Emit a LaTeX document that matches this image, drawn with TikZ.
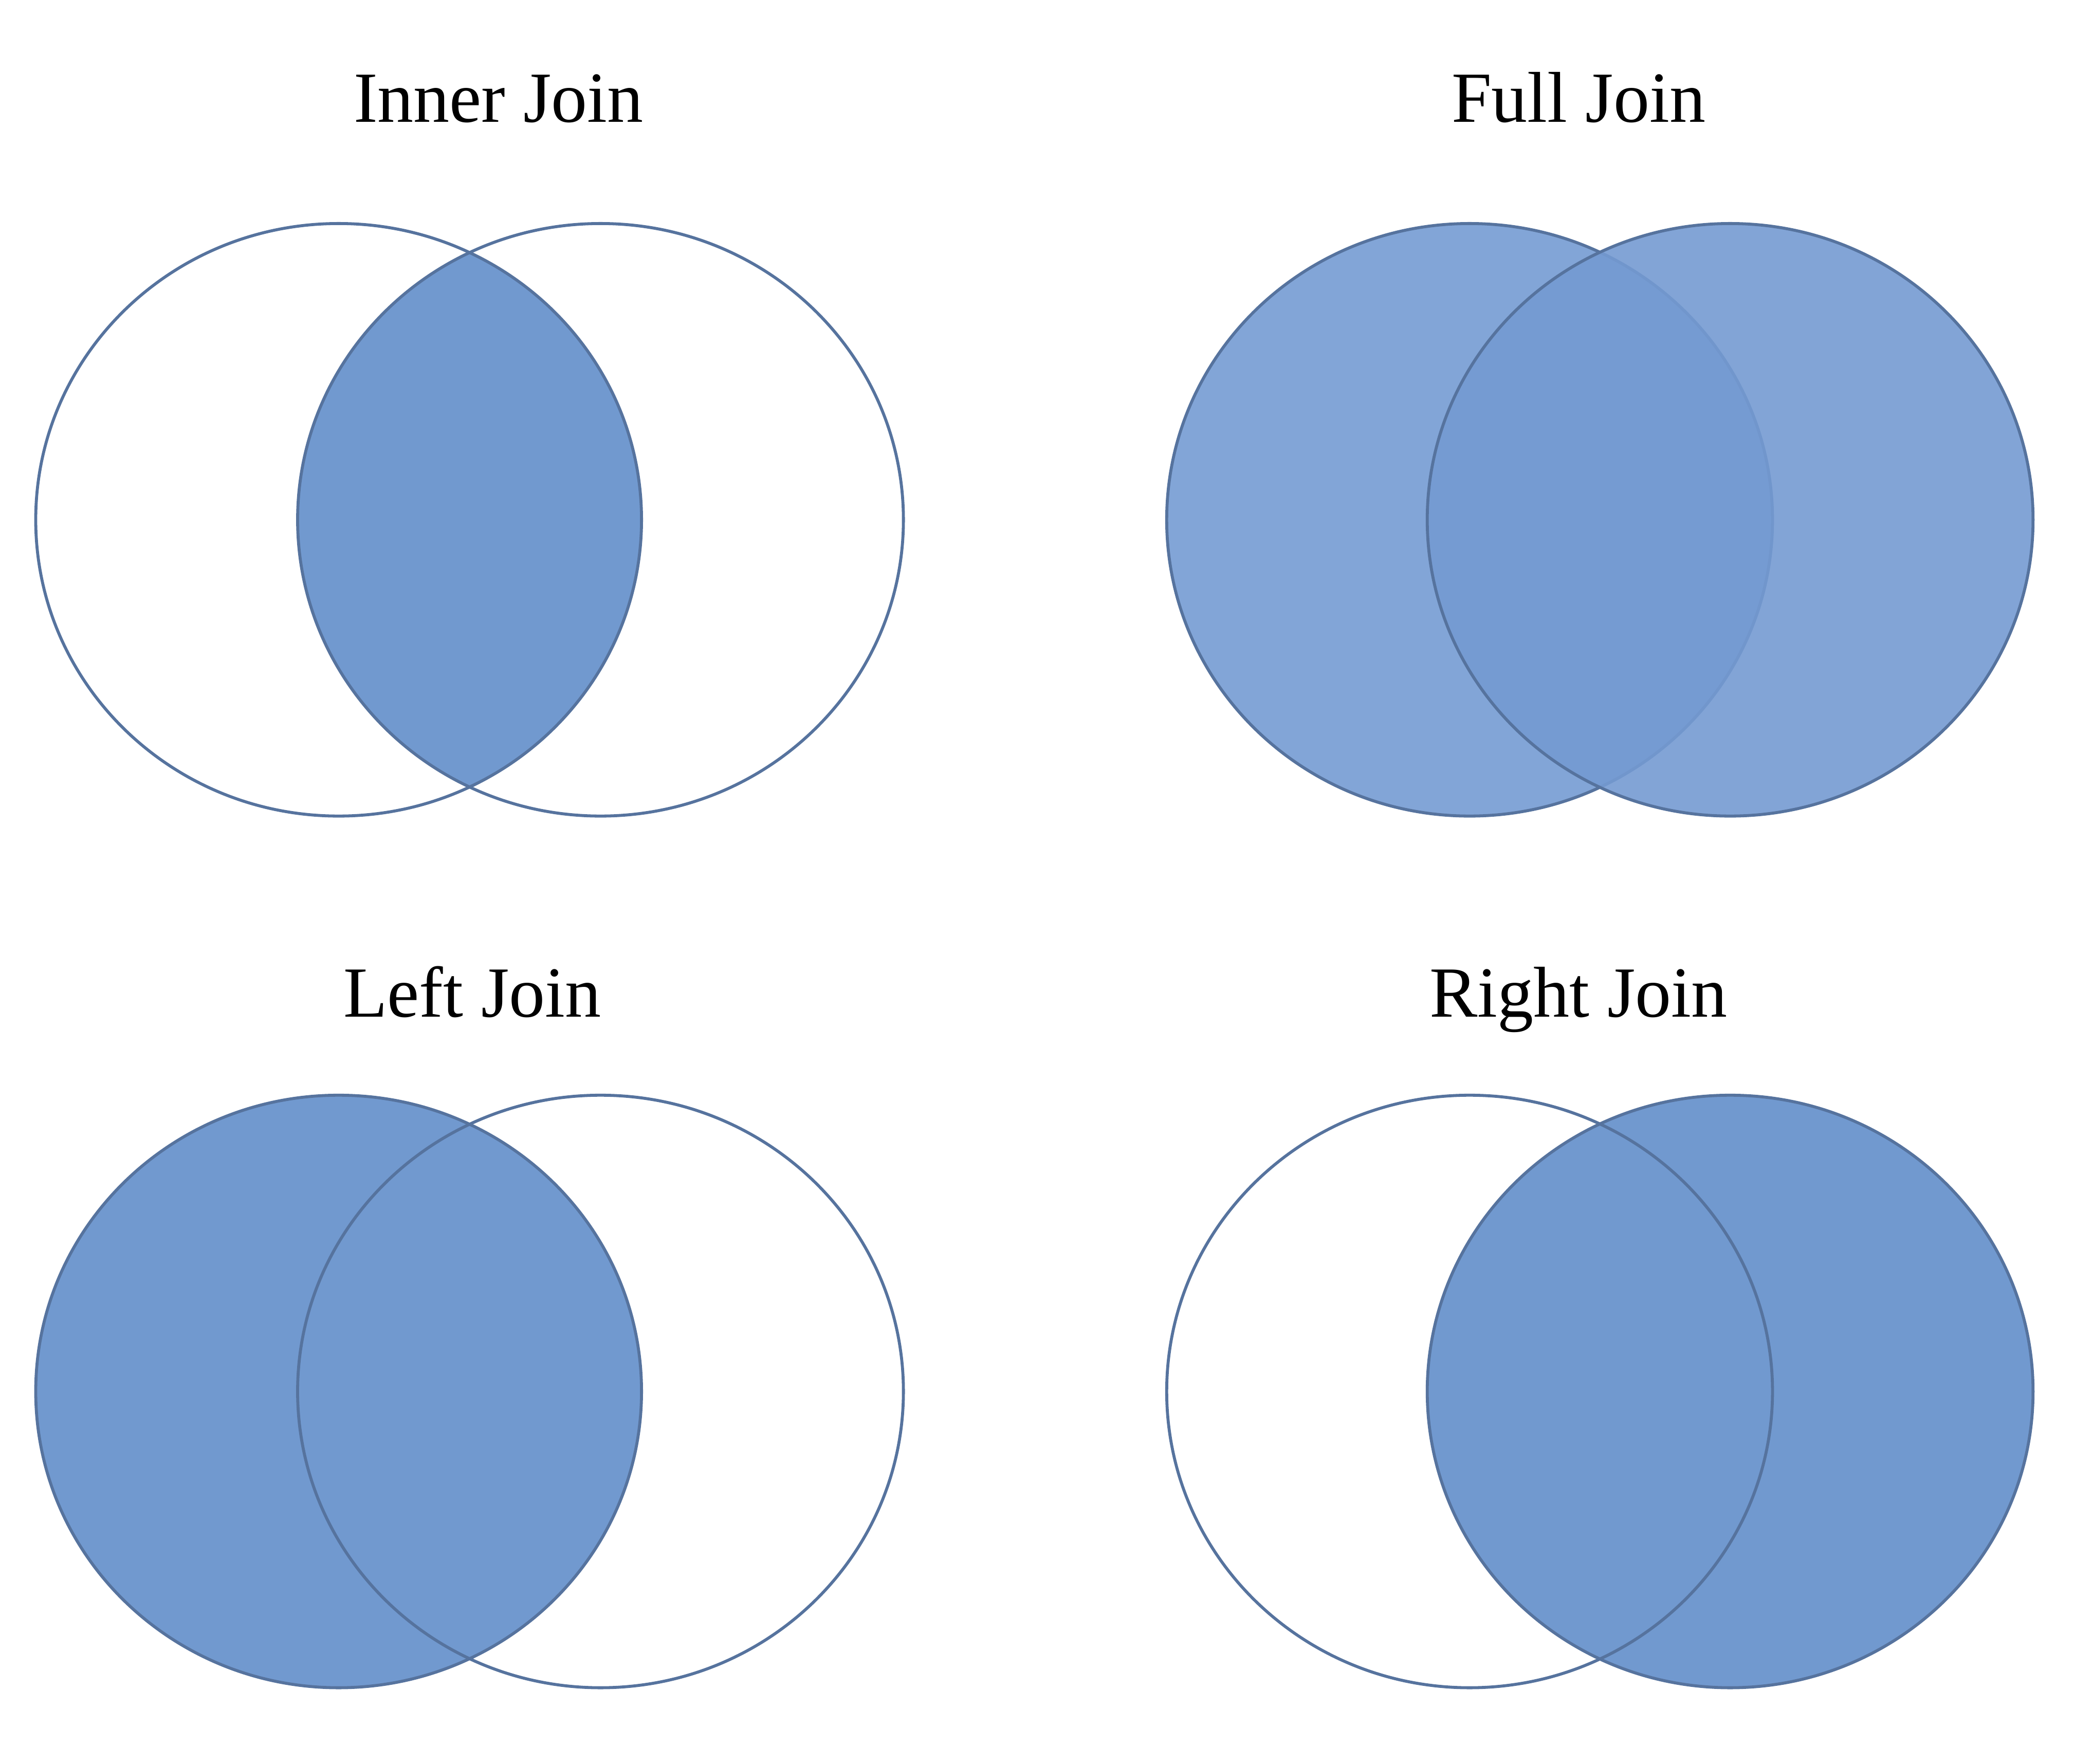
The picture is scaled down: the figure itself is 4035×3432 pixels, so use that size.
\documentclass[tikz,border=0pt]{standalone}
\usepackage{fontspec}
\setmainfont{Liberation Serif}
\definecolor{strokeblue}{HTML}{56739E}
\definecolor{fillblue}{HTML}{7199CF}
\definecolor{fulla}{HTML}{82A5D7}
\definecolor{fullb}{HTML}{749AD2}
\begin{document}
\begin{tikzpicture}[x=0.25pt,y=-0.25pt,
  title/.style={font=\fontsize{35}{42}\selectfont, anchor=base, inner sep=0pt, text=black},
  rim/.style={draw=strokeblue, line width=1.45pt},
]
\useasboundingbox (0,0) rectangle (4035,3432);
\def\RX{589.3}\def\RY{576.4}
% centres
\coordinate (iL) at (658.8,1011.3);  \coordinate (iR) at (1168.3,1011.3);
\coordinate (fL) at (2859.1,1011.3); \coordinate (fR) at (3366.0,1011.3);
\coordinate (lL) at (658.8,2707.2);  \coordinate (lR) at (1168.3,2707.2);
\coordinate (rL) at (2859.1,2707.2); \coordinate (rR) at (3366.0,2707.2);

% titles
\node[title] (tInner) at (970,238) {Inner Join};
\node[title] (tFull)  at (3071,238) {Full Join};
\node[title] (tLeft)  at (919,1978) {Left Join};
\node[title] (tRight) at (3071,1978) {Right Join};

% Inner Join
\begin{scope}
  \clip (iL) ellipse [x radius=\RX, y radius=\RY];
  \fill[fillblue] (iR) ellipse [x radius=\RX, y radius=\RY];
\end{scope}
\draw[rim] (iL) ellipse [x radius=\RX, y radius=\RY];
\draw[rim] (iR) ellipse [x radius=\RX, y radius=\RY];

% Full Join
\filldraw[rim, fill=fulla] (fL) ellipse [x radius=\RX, y radius=\RY];
\fill[fullb, fill opacity=0.9] (fR) ellipse [x radius=\RX, y radius=\RY];
\draw[rim] (fR) ellipse [x radius=\RX, y radius=\RY];

% Left Join
\fill[fillblue] (lL) ellipse [x radius=\RX, y radius=\RY];
\draw[rim] (lL) ellipse [x radius=\RX, y radius=\RY];
\draw[rim] (lR) ellipse [x radius=\RX, y radius=\RY];

% Right Join
\fill[fillblue] (rR) ellipse [x radius=\RX, y radius=\RY];
\draw[rim] (rL) ellipse [x radius=\RX, y radius=\RY];
\draw[rim] (rR) ellipse [x radius=\RX, y radius=\RY];
\end{tikzpicture}
\end{document}
